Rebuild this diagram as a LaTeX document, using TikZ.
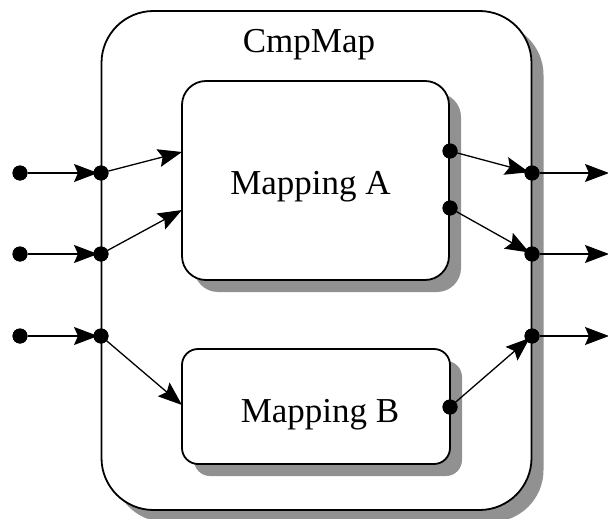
\documentclass[tikz,border=0pt]{standalone}
\usepackage{fontspec}
\setmainfont{Liberation Serif}
\newfontfamily\lblfont{Liberation Serif}
\usetikzlibrary{shadows,arrows.meta}
\begin{document}
\begin{tikzpicture}[x=1pt,y=-1pt,
  box/.style={draw=black, line width=1.8pt, fill=white, rounded corners=#1,
    inner sep=0pt, outer sep=0pt,
    drop shadow={shadow xshift=12pt, shadow yshift=-12pt, fill=black!43, opacity=1}},
  dot/.style={circle, fill=black, inner sep=0pt, outer sep=0pt, minimum size=15pt},
  conn/.style={line width=1.3pt, -{Stealth[length=24pt,width=18pt,inset=4pt]}},
  lbl/.style={font=\lblfont\fontsize{35}{40}\selectfont, inner sep=0pt, anchor=base}
]
\useasboundingbox (0,0) rectangle (608,519);
\clip (0,0) rectangle (608,519);
\fill[white] (0,0) rectangle (608,519);

% boxes
\node[box=52pt, minimum width=430pt, minimum height=499pt] (outer) at (316.5,260.5) {};
\node[box=24pt, minimum width=267pt, minimum height=199pt] (A) at (315.5,180.5) {};
\node[box=16pt, minimum width=268pt, minimum height=115pt] (B) at (316,406.5) {};

% labels
\node[lbl] (title) at (309,53) {CmpMap};
\node[lbl] (tA) at (310.5,194) {Mapping A};
\node[lbl] (tB) at (320,422) {Mapping B};

% dots
\node[dot] (in1) at (20,173) {};
\node[dot] (in2) at (20,254) {};
\node[dot] (in3) at (20,336) {};
\node[dot] (l1) at (101,173) {};
\node[dot] (l2) at (101,254) {};
\node[dot] (l3) at (101,336) {};
\node[dot] (ao1) at (450,151) {};
\node[dot] (ao2) at (450,208) {};
\node[dot] (bo) at (450,407) {};
\node[dot] (r1) at (532,173) {};
\node[dot] (r2) at (532,254) {};
\node[dot] (r3) at (532,336) {};

% free ends
\coordinate (ai1) at (182,152);
\coordinate (ai2) at (182,210);
\coordinate (bi) at (182,405);
\coordinate (o1) at (609,173);
\coordinate (o2) at (609,254);
\coordinate (o3) at (609,336);

% connectors
\draw[conn, shorten >=3pt] (in1) -- (l1.center);
\draw[conn, shorten >=3pt] (in2) -- (l2.center);
\draw[conn, shorten >=3pt] (in3) -- (l3.center);
\draw[conn] (l1) -- (ai1);
\draw[conn] (l2) -- (ai2);
\draw[conn] (l3) -- (bi);
\draw[conn, shorten >=3pt] (ao1) -- (r1.center);
\draw[conn, shorten >=3pt] (ao2) -- (r2.center);
\draw[conn, shorten >=3pt] (bo) -- (r3.center);
\draw[conn] (r1) -- (o1);
\draw[conn] (r2) -- (o2);
\draw[conn] (r3) -- (o3);

% redraw dots on top
\foreach \d in {in1,in2,in3,l1,l2,l3,ao1,ao2,bo,r1,r2,r3}
  \fill (\d.center) circle (7.5pt);
\end{tikzpicture}
\end{document}
